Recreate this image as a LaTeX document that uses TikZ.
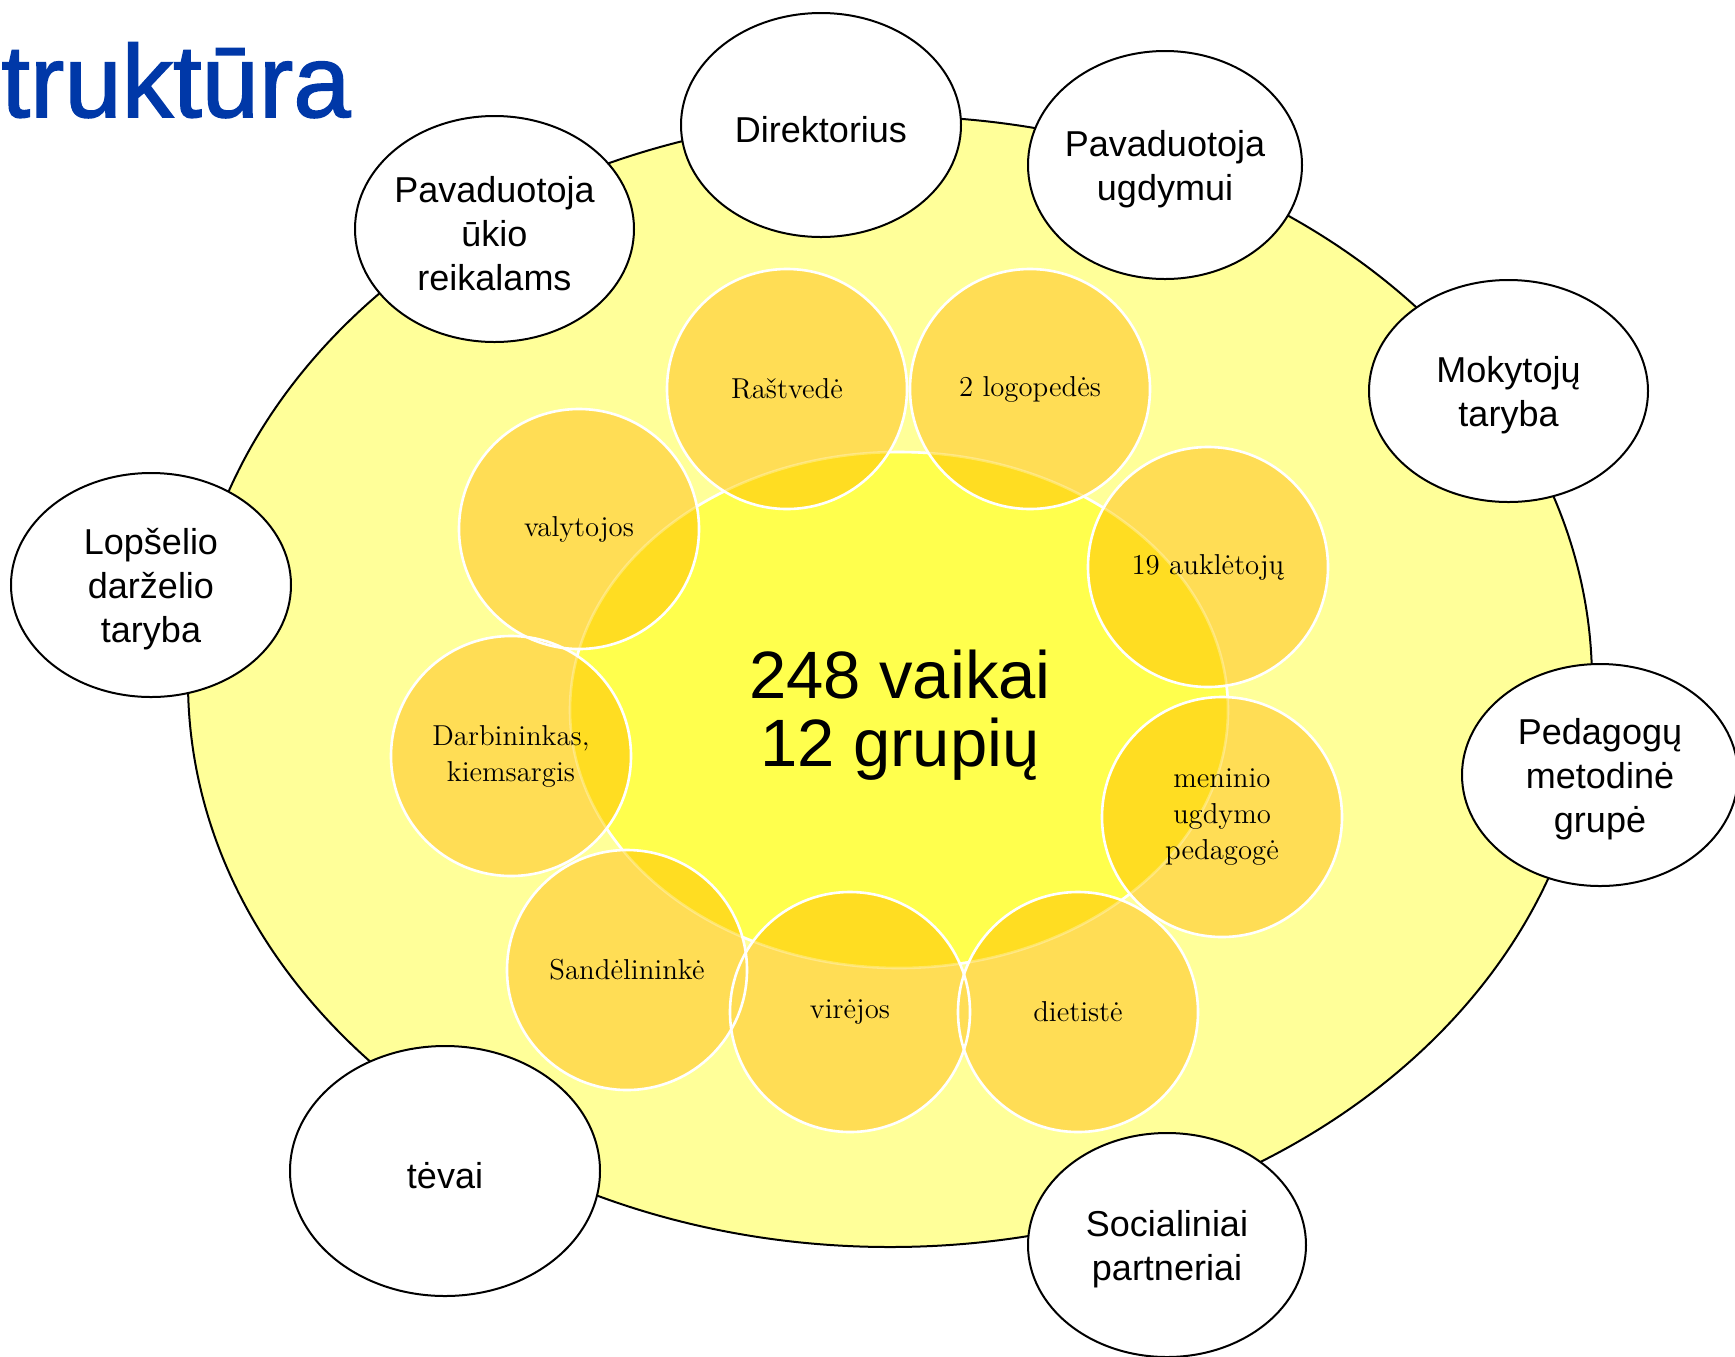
\documentclass[tikz,border=0pt]{standalone}
\usepackage{fontspec}
\newfontfamily\sansf{Liberation Sans}
\newfontfamily\titlef[FakeBold=1.5]{Liberation Sans}
\usetikzlibrary{shapes.geometric}
\definecolor{bigY}{RGB}{255,255,153}
\definecolor{innerY}{RGB}{255,255,77}
\definecolor{circY}{RGB}{255,221,85}
\definecolor{overY}{RGB}{255,221,34}
\definecolor{titleblue}{RGB}{0,56,168}
\begin{document}
\begin{tikzpicture}[x=0.5pt,y=-0.5pt,
  wellipse/.style={shape=ellipse,draw=black,line width=1pt,fill=white,inner sep=-4pt,align=center,font=\sansf\fontsize{18}{22}\selectfont},
  wtext/.style={inner sep=0pt,align=center,font=\sansf\fontsize{18}{22}\selectfont,yshift=-2.2pt},
  ycirc/.style={shape=circle,draw=white,line width=1.3pt,minimum size=120pt,inner sep=0pt,align=center,font=\fontsize{14.4}{18}\selectfont},
  outerell/.style={shape=ellipse,draw=black,line width=1pt,fill=bigY,inner sep=0pt,minimum width=702pt,minimum height=565.5pt},
  innerell/.style={shape=ellipse,draw=white,line width=1.3pt,fill=innerY,inner sep=0pt,minimum width=329pt,minimum height=258pt}
]
\useasboundingbox (0,0) rectangle (1735,1356);
\begin{scope}
\clip (0,0) rectangle (1735,1356);
% outer and inner ellipses
\node[outerell] (outer) at (890,681.5) {};
\node[innerell] (inner) at (899,710) {};
% circle centres
\coordinate (c1) at (787,389);
\coordinate (c2) at (1030,389);
\coordinate (c3) at (579,529);
\coordinate (c4) at (1208,567);
\coordinate (c5) at (511,756);
\coordinate (c6) at (1222,817);
\coordinate (c7) at (627,970);
\coordinate (c8) at (850,1012);
\coordinate (c9) at (1078,1012);
\foreach \c in {c1,c2,c3,c4,c5,c6,c7,c8,c9}
  \fill[circY] (\c) circle [radius=120];
\begin{scope}
  \clip (899,710) ellipse [x radius=329, y radius=258];
  \foreach \c in {c1,c2,c3,c4,c5,c6,c7,c8,c9}
    \fill[overY] (\c) circle [radius=120];
\end{scope}
\draw[white,opacity=0.3,line width=1.3pt] (899,710) ellipse [x radius=329, y radius=258];
% central text
\node[font=\sansf\fontsize{33.5}{34}\selectfont,align=center,inner sep=0pt] (kids) at (900,715) {248 vaikai\\12 grupių};
% staff circles
\node[ycirc] (rast) at (c1) {Raštvedė};
\node[ycirc] (logo) at (c2) {2 logopedės};
\node[ycirc] (valy) at (c3) {valytojos};
\node[ycirc] (aukl) at (c4) {19 auklėtojų};
\node[ycirc] (darb) at (c5) {Darbininkas,\\kiemsargis};
\node[ycirc] (men) at (c6) {meninio\\ugdymo\\pedagogė};
\node[ycirc] (sand) at (c7) {Sandėlininkė};
\node[ycirc] (vir) at (c8) {virėjos};
\node[ycirc] (diet) at (c9) {dietistė};
% outer white ellipses
\node[wellipse,minimum width=140pt,minimum height=112pt] (dir) at (821,125) {};
\node[wellipse,minimum width=137pt,minimum height=114pt] (pu) at (1165,165) {};
\node[wellipse,minimum width=139.5pt,minimum height=113pt] (puk) at (494.5,229) {};
\node[wellipse,minimum width=139.5pt,minimum height=111pt] (mok) at (1508.5,391) {};
\node[wellipse,minimum width=140pt,minimum height=112pt] (lop) at (151,585) {};
\node[wellipse,minimum width=138pt,minimum height=111pt] (ped) at (1600,775) {};
\node[wellipse,minimum width=155pt,minimum height=125pt] (tev) at (445,1171) {};
\node[wellipse,minimum width=139pt,minimum height=112pt] (soc) at (1167,1245) {};
\node[wtext] (dirT) at (dir.center) {Direktorius};
\node[wtext] (puT) at (pu.center) {Pavaduotoja\\ugdymui};
\node[wtext] (pukT) at (puk.center) {Pavaduotoja\\ūkio\\reikalams};
\node[wtext] (mokT) at (mok.center) {Mokytojų\\taryba};
\node[wtext] (lopT) at (lop.center) {Lopšelio\\darželio\\taryba};
\node[wtext] (pedT) at (ped.center) {Pedagogų\\metodinė\\grupė};
\node[wtext] (tevT) at (tev.center) {tėvai};
\node[wtext] (socT) at (soc.center) {Socialiniai\\partneriai};
% title
\node[anchor=base east,inner sep=0pt,text=titleblue,font=\titlef\fontsize{51.5}{60}\selectfont] (title) at (351,117) {truktūra};
\end{scope}
\end{tikzpicture}
\end{document}
